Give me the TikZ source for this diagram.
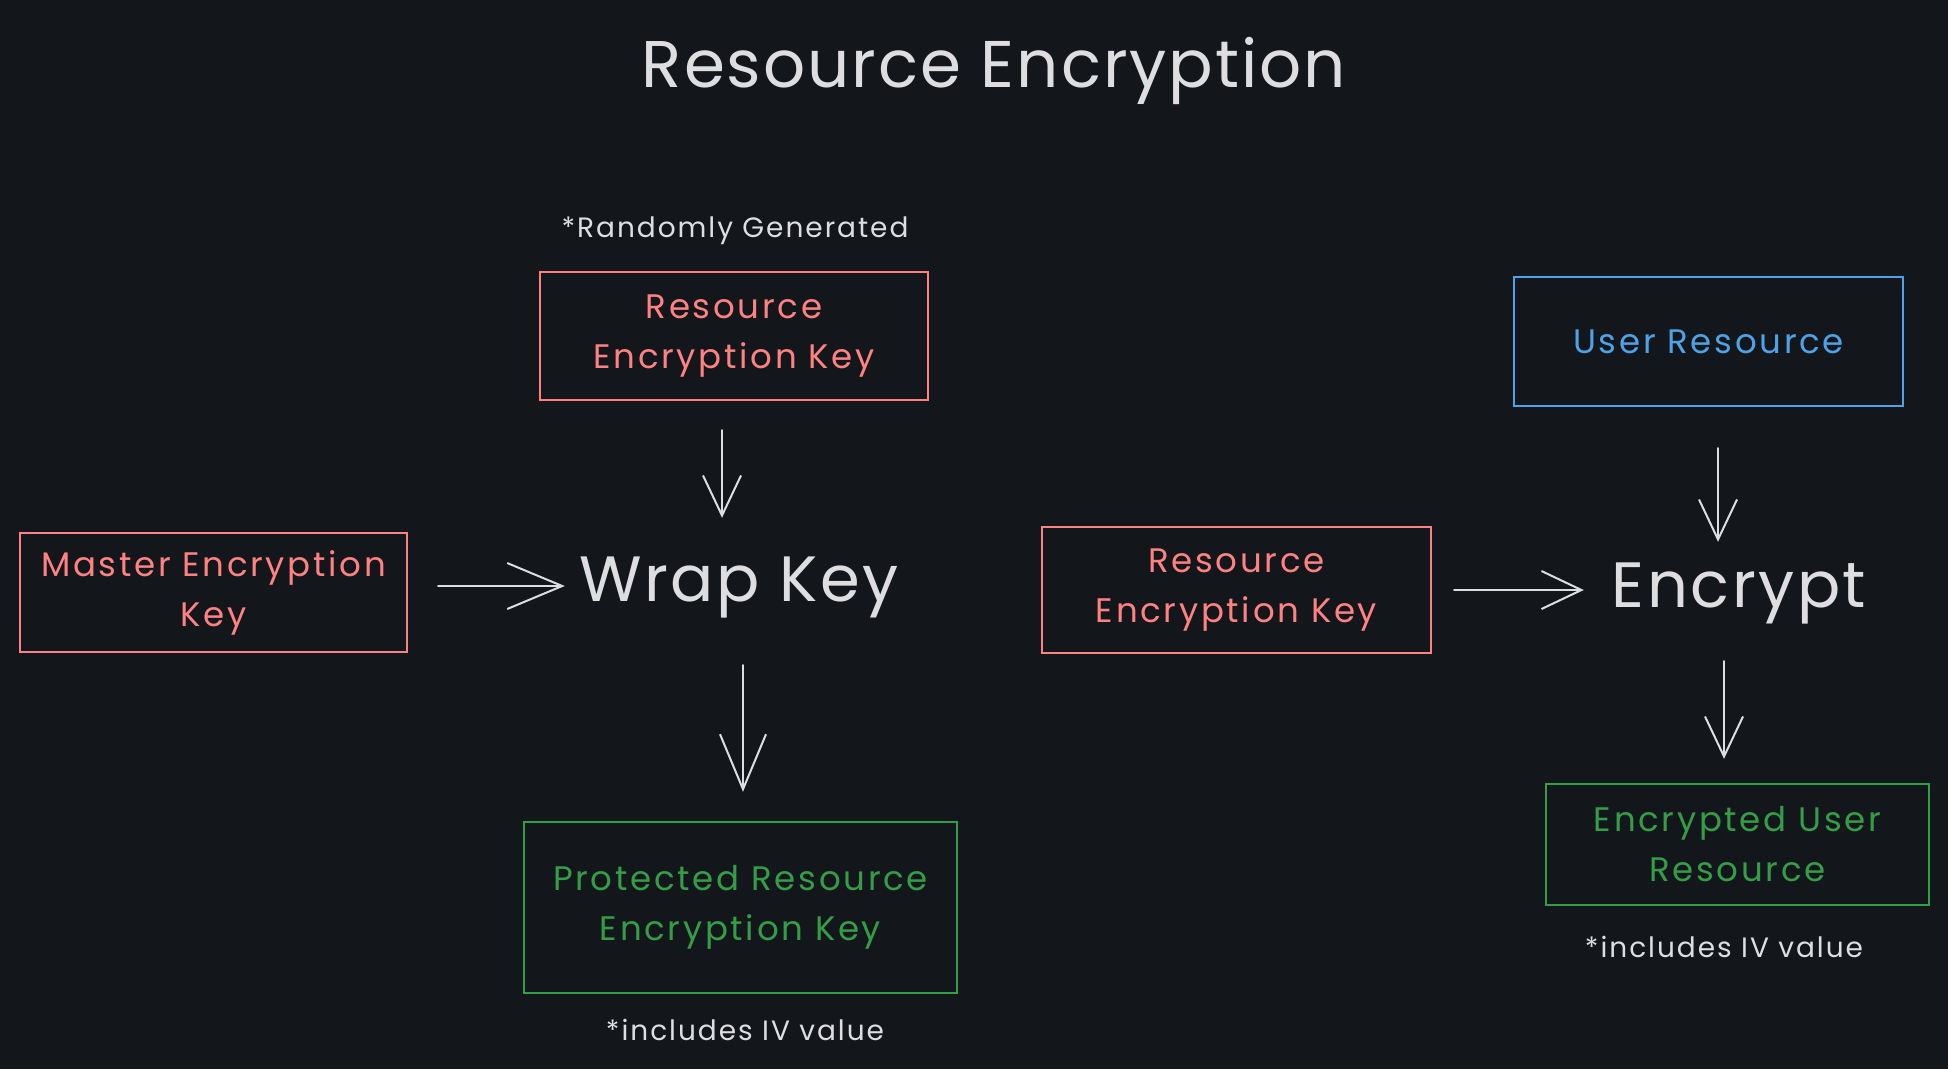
\documentclass[tikz,border=0pt]{standalone}
\usepackage{fontspec}
\setmainfont{Poppins}
\newfontfamily\boxfont[LetterSpace=8]{Poppins}
\newfontfamily\notefont[LetterSpace=7]{Poppins}
\newfontfamily\titlefont[LetterSpace=3]{Poppins}
\newfontfamily\opfont[LetterSpace=4]{Poppins}
\usetikzlibrary{arrows.meta}
\definecolor{bg}{RGB}{19,22,27}
\definecolor{kred}{RGB}{255,130,130}
\definecolor{kblue}{RGB}{77,163,231}
\definecolor{kgreen}{RGB}{52,158,70}
\definecolor{ktext}{RGB}{222,222,224}
\begin{document}
\begin{tikzpicture}[x=1pt,y=-1pt,
  box/.style={draw, line width=2.4pt, inner sep=0pt, align=center,
    font=\boxfont\fontsize{34}{50}\selectfont},
  redbox/.style={box, draw=kred, text=kred},
  bluebox/.style={box, draw=kblue, text=kblue},
  greenbox/.style={box, draw=kgreen, text=kgreen},
  opnode/.style={inner sep=0pt, text=ktext, font=\opfont\fontsize{64}{70}\selectfont},
  note/.style={inner sep=0pt, text=ktext, font=\notefont\fontsize{28}{32}\selectfont},
  arr/.style={draw=ktext, line width=2pt, line cap=round,
    -{Straight Barb[length=40pt,width=38pt,line width=2pt]}},
  bigarr/.style={arr, -{Straight Barb[length=55pt,width=46pt,line width=2pt]}}
]
\fill[bg] (0,0) rectangle (1948,1069);
\useasboundingbox (0,0) rectangle (1948,1069);

\node[inner sep=0pt, text=ktext, font=\titlefont\fontsize{66}{70}\selectfont] (title) at (994,71) {Resource Encryption};

\node[note] (rand) at (735,231) {*Randomly Generated};
\node[redbox, minimum width=388pt, minimum height=128pt] (rek) at (734,336) {Resource\\Encryption Key};
\node[redbox, minimum width=387pt, minimum height=119pt] (mek) at (213.5,592.5) {Master Encryption\\Key};
\node[opnode, minimum width=330pt, minimum height=130pt] (wrap) at (739,588) {Wrap Key};
\node[greenbox, minimum width=433pt, minimum height=171pt] (prot) at (740.5,907.5) {Protected Resource\\Encryption Key};
\node[note] (iv1) at (745,1030) {*includes IV value};

\node[redbox, minimum width=389pt, minimum height=126pt] (rek2) at (1236.5,590) {Resource\\Encryption Key};
\node[bluebox, minimum width=389pt, minimum height=129pt] (ur) at (1708.5,341.5) {User Resource};
\node[opnode, minimum width=280pt, minimum height=90pt] (enc) at (1739,593) {Encrypt};
\node[greenbox, minimum width=383pt, minimum height=121pt] (eur) at (1737.5,844.5) {Encrypted User\\Resource};
\node[note] (iv2) at (1724,947) {*includes IV value};

\draw[bigarr, shorten <=30pt, shorten >=9pt] ([yshift=6.5pt]mek.east) -- ([yshift=2pt]wrap.west);
\draw[arr, shorten <=29pt, shorten >=5pt] ([xshift=-12pt]rek.south) -- ([xshift=-17pt]wrap.north);
\draw[bigarr, shorten <=12pt, shorten >=29pt] ([xshift=4pt]wrap.south) -- ([xshift=2.5pt]prot.north);
\draw[arr, shorten <=22pt, shorten >=15pt] (rek2.east) -- ([yshift=3pt]enc.west);
\draw[arr, shorten <=41pt, shorten >=6pt] ([xshift=9.5pt]ur.south) -- ([xshift=-21pt]enc.north);
\draw[arr, shorten <=23pt, shorten >=24pt] ([xshift=-15pt]enc.south) -- ([xshift=-13.5pt]eur.north);
\end{tikzpicture}
\end{document}
